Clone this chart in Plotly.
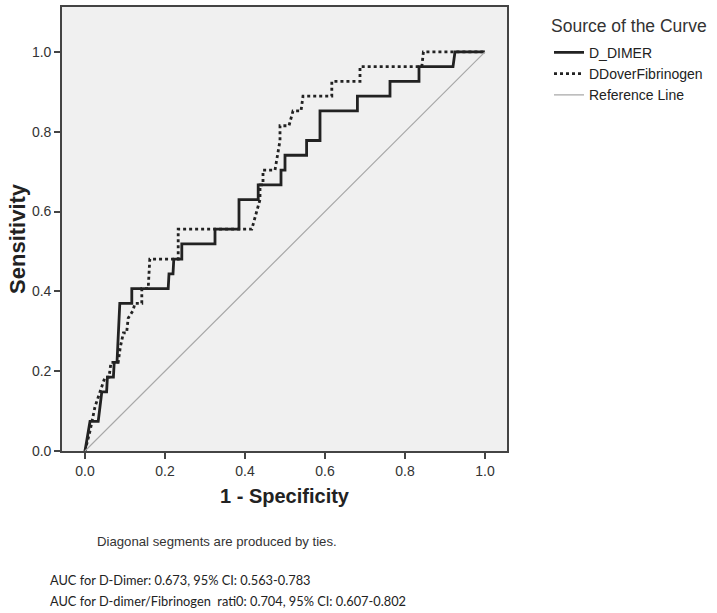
import plotly.graph_objects as go

# ---- data ----
ddimer_fpr = [0.0, 0.0125, 0.033, 0.042, 0.054, 0.056, 0.071, 0.073, 0.080, 0.085, 0.087,
              0.117, 0.117, 0.208, 0.210, 0.220, 0.222, 0.242, 0.242, 0.325, 0.325,
              0.385, 0.385, 0.433, 0.433, 0.490, 0.490, 0.500, 0.500, 0.554, 0.554,
              0.5875, 0.5875, 0.681, 0.681, 0.7625, 0.7625, 0.835, 0.835, 0.920, 0.925, 1.0]
ddimer_tpr = [0.0, 0.074, 0.074, 0.148, 0.148, 0.185, 0.185, 0.222, 0.222, 0.333, 0.370,
              0.370, 0.407, 0.407, 0.444, 0.444, 0.481, 0.481, 0.519, 0.519, 0.556,
              0.556, 0.630, 0.630, 0.667, 0.667, 0.704, 0.704, 0.741, 0.741, 0.778,
              0.778, 0.852, 0.852, 0.889, 0.889, 0.926, 0.926, 0.963, 0.963, 1.0, 1.0]

ratio_fpr = [0.0, 0.0125, 0.025, 0.0375, 0.050, 0.060, 0.065, 0.083, 0.088, 0.096, 0.104,
             0.108, 0.120, 0.125, 0.142, 0.142, 0.158, 0.162, 0.233, 0.233, 0.417,
             0.4375, 0.4375, 0.445, 0.445, 0.475, 0.4875, 0.4875, 0.510, 0.520, 0.540,
             0.545, 0.617, 0.617, 0.6875, 0.6875, 0.842, 0.846, 1.0]
ratio_tpr = [0.0, 0.050, 0.111, 0.148, 0.185, 0.185, 0.222, 0.222, 0.259, 0.296, 0.296,
             0.333, 0.352, 0.370, 0.370, 0.407, 0.407, 0.481, 0.481, 0.556, 0.556,
             0.630, 0.667, 0.667, 0.704, 0.704, 0.778, 0.815, 0.815, 0.852, 0.852,
             0.889, 0.889, 0.926, 0.926, 0.963, 0.963, 1.0, 1.0]

ref_x = [0.0, 1.0]
ref_y = [0.0, 1.0]

tick_vals = [0.0, 0.2, 0.4, 0.6, 0.8, 1.0]
tick_text = ["0.0", "0.2", "0.4", "0.6", "0.8", "1.0"]

series_names = ["D_DIMER", "DDoverFibrinogen", "Reference Line"]
legend_title = "Source of the Curve"
x_title = "1 - Specificity"
y_title = "Sensitivity"
note_text = "Diagonal segments are produced by ties."
auc_lines = ["AUC for D-Dimer: 0.673, 95% CI: 0.563-0.783",
             "AUC for D-dimer/Fibrinogen  rati0: 0.704, 95% CI: 0.607-0.802"]

FONT = "Liberation Sans, Arial, sans-serif"
AUCFONT = "Lato, Liberation Sans, sans-serif"

# plot-area pixel geometry
L, R, T, B = 62, 507, 5, 451
W, H = R - L, B - T


def px_x(p):
    return (p - L) / W


def px_y(p):
    return (B - p) / H


fig = go.Figure()
fig.add_trace(go.Scatter(x=ddimer_fpr, y=ddimer_tpr, mode="lines", name=series_names[0],
                         line=dict(color="#222222", width=2.8)))
fig.add_trace(go.Scatter(x=ratio_fpr, y=ratio_tpr, mode="lines", name=series_names[1],
                         line=dict(color="#222222", width=2.8, dash="dot")))
fig.add_trace(go.Scatter(x=ref_x, y=ref_y, mode="lines", name=series_names[2],
                         line=dict(color="#a8a8a8", width=1.2)))

axis_common = dict(
    tickmode="array", tickvals=tick_vals, ticktext=tick_text,
    showgrid=False, zeroline=False,
    showline=True, linecolor="#444444", linewidth=1.6, mirror=True,
    ticks="outside", ticklen=6, tickwidth=1.6, tickcolor="#444444",
    tickfont=dict(family=FONT, size=14, color="#333333"),
)

fig.update_layout(
    width=717, height=613,
    margin=dict(l=L, r=717 - R, t=T, b=613 - B),
    paper_bgcolor="white", plot_bgcolor="#f0f0f0",
    font=dict(family=FONT, color="#333333"),
    xaxis=dict(range=[-0.0575, 1.055],
               title=dict(text="<b>" + x_title + "</b>", font=dict(family=FONT, size=20, color="#222222"),
                          standoff=11),
               **axis_common),
    yaxis=dict(range=[0.0, 1.1125], **axis_common),
    legend=dict(
        x=px_x(549), y=px_y(35), xanchor="left", yanchor="top",
        font=dict(family=FONT, size=14, color="#222222"),
        bgcolor="rgba(0,0,0,0)", tracegroupgap=0, itemwidth=30,
    ),
    annotations=[
        dict(text=legend_title, xref="paper", yref="paper", x=px_x(549), y=px_y(24),
             xanchor="left", yanchor="middle", showarrow=False,
             font=dict(family=FONT, size=17.5, color="#333333")),
        dict(text="<b>" + y_title + "</b>", xref="paper", yref="paper", x=px_x(18), y=px_y(238),
             xanchor="center", yanchor="middle", textangle=-90, showarrow=False,
             font=dict(family=FONT, size=22, color="#222222")),
        dict(text=note_text, xref="paper", yref="paper", x=px_x(217), y=px_y(542),
             xanchor="center", yanchor="middle", showarrow=False,
             font=dict(family=FONT, size=13.2, color="#333333")),
        dict(text=auc_lines[0], xref="paper", yref="paper", x=px_x(48), y=px_y(581),
             xanchor="left", yanchor="middle", showarrow=False,
             font=dict(family=AUCFONT, size=12.8, color="#222222")),
        dict(text=auc_lines[1], xref="paper", yref="paper", x=px_x(48), y=px_y(602),
             xanchor="left", yanchor="middle", showarrow=False,
             font=dict(family=AUCFONT, size=12.8, color="#222222")),
    ],
)

fig.write_html("out.html", config={"displayModeBar": False},
               post_script="document.body.style.margin='0';")
